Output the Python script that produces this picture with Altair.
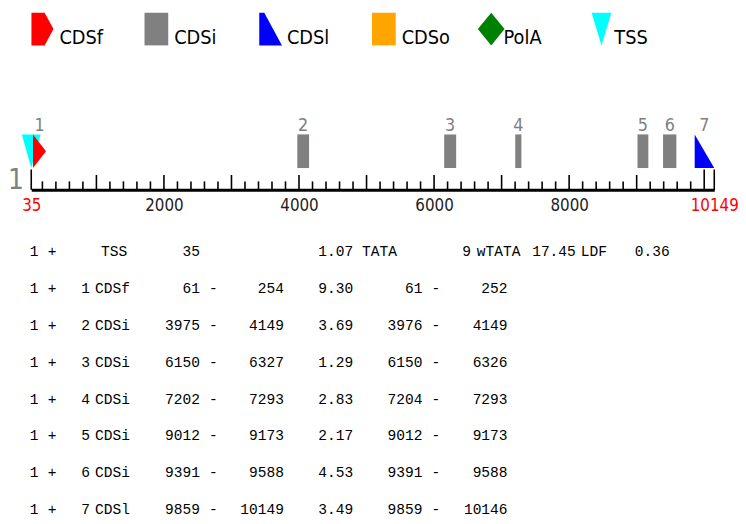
import altair as alt
import pandas as pd

# ---------------- data ----------------
feat_id = [1, 2, 3, 4, 5, 6, 7]
feat_type = ["CDSf", "CDSi", "CDSi", "CDSi", "CDSi", "CDSi", "CDSl"]
feat_start = [61, 3975, 6150, 7202, 9012, 9391, 9859]
feat_end = [254, 4149, 6327, 7293, 9173, 9588, 10149]
feat_score = ["9.30", "3.69", "1.29", "2.83", "2.17", "4.53", "3.49"]
orf_start = [61, 3976, 6150, 7204, 9012, 9391, 9859]
orf_end = [252, 4149, 6326, 7293, 9173, 9588, 10146]
tss_pos = 35
tss_fields = ["TSS", "35", "1.07", "TATA", "9", "wTATA", "17.45", "LDF", "0.36"]
seq_start, seq_end = 35, 10149
axis_labels = [35, 2000, 4000, 6000, 8000, 10149]
legend_names = ["CDSf", "CDSi", "CDSl", "CDSo", "PolA", "TSS"]
legend_colors = ["#ff0000", "#808080", "#0000ff", "#ffa500", "#008000", "#00ffff"]
gene_label = "1"
strand = "+"

# ---------------- layout ----------------
SANS = "Liberation Sans Narrow, DejaVu Sans Condensed, Arial Narrow, sans-serif"
MONO = "Liberation Mono, DejaVu Sans Mono, monospace"
PAD_L, PAD_T = 23.5, 0
W, H = 690.5, 181
TOTAL_W, TOTAL_H = 738, 510
PAD_R = TOTAL_W - PAD_L - W
PAD_B = TOTAL_H - PAD_T - H


def px(page_x):
    return page_x - 8 - PAD_L


def py(page_y):
    return page_y - 8 - PAD_T


XS = alt.Scale(domain=[seq_start, seq_end], nice=False, zero=False)
AX = alt.Axis(
    values=axis_labels, ticks=False, tickSize=0, grid=False, title=None,
    domainWidth=3, domainColor="#000000", format="d",
    labelFont=SANS, labelFontSize=17, labelPadding=8,
    labelFlush=False, labelOverlap=False,
    labelColor={"condition": {"test": "datum.value == 35 || datum.value == 10149",
                              "value": "#ff0000"}, "value": "#222222"},
)


def X(field):
    return alt.X(field, type="quantitative", scale=XS, axis=AX, title=None)


feat = pd.DataFrame({
    "id": feat_id, "type": feat_type, "start": feat_start, "end": feat_end,
    "score": feat_score, "ostart": orf_start, "oend": orf_end,
})
feat["mid"] = (feat["start"] + feat["end"]) / 2
feat["label"] = feat["id"].astype(str)
feat["row"] = range(1, len(feat) + 1)
feat["strandno"] = gene_label
feat["strand"] = strand
feat["dash"] = "-"

# tick table (scale ticks every 200, major every 1000, plus sequence ends)
tick_pos = sorted(set([seq_start, seq_end] + list(range(200, 10001, 200))))
ticks = pd.DataFrame({"pos": tick_pos})
ticks["kind"] = [
    "tall" if p in (seq_start, seq_end, 10000) else ("mid" if p % 1000 == 0 else "minor")
    for p in tick_pos
]

layers = []
BASE = 189
for kind, top in [("minor", 180.5), ("mid", 174), ("tall", 168.5)]:
    layers.append(
        alt.Chart(ticks).transform_filter(alt.datum.kind == kind)
        .mark_rule(color="#000000", strokeWidth=1.6)
        .encode(x=X("pos"), y=alt.value(py(top)), y2=alt.value(py(BASE)))
    )

# internal exons as rectangles
layers.append(
    alt.Chart(feat).transform_filter(alt.datum.type == "CDSi")
    .mark_rect(color="#808080")
    .encode(x=X("start"), x2="end", y=alt.value(py(133)), y2=alt.value(py(167)))
)

# TSS marker
layers.append(
    alt.Chart(pd.DataFrame({"pos": [tss_pos]}))
    .mark_point(shape="M-0.56,-1L0.56,-1L0,1Z", size=1156, filled=True,
                color="#00ffff", opacity=1, strokeWidth=0)
    .encode(x=X("pos"), y=alt.value(py(150)))
)

# first / last exon as triangles
tri = []
for i, t, s, e in zip(feat_id, feat_type, feat_start, feat_end):
    if t == "CDSf":
        tri += [dict(id=i, type=t, x=s, top=1.0, bot=0.0),
                dict(id=i, type=t, x=e, top=0.5, bot=0.5)]
    elif t == "CDSl":
        tri += [dict(id=i, type=t, x=s, top=1.0, bot=0.0),
                dict(id=i, type=t, x=e, top=0.0, bot=0.0)]
layers.append(
    alt.Chart(pd.DataFrame(tri)).mark_area(opacity=1)
    .encode(
        x=X("x"),
        y=alt.Y("top:Q", scale=alt.Scale(domain=[0, 1], range=[py(167), py(133)]), axis=None),
        y2="bot:Q",
        color=alt.Color("type:N", scale=alt.Scale(domain=["CDSf", "CDSl"],
                                                  range=["#ff0000", "#0000ff"]), legend=None),
        detail="id:N",
    )
)

# exon numbers
layers.append(
    alt.Chart(feat).mark_text(font=SANS, fontSize=18, color="#808080", baseline="alphabetic")
    .encode(x=X("mid"), y=alt.value(py(130)), text="label:N")
)

# gene number on the left
layers.append(
    alt.Chart(pd.DataFrame({"t": [gene_label]}))
    .mark_text(font=SANS, fontSize=28, color="#808080", baseline="alphabetic", align="left")
    .encode(x=alt.value(px(8)), y=alt.value(py(188)), text="t:N")
)

# legend
LEG_SHAPES = [
    ("M-0.676,-1L0.13,-1L0.676,0L0.13,1L-0.676,1Z", 42.85, 60),
    ("M-0.727,-1L0.727,-1L0.727,1L-0.727,1Z", 158, 176),
    ("M-0.697,-1L-0.39,-1L0.697,1L-0.697,1Z", 273.5, 290),
    ("M-0.727,-1L0.727,-1L0.727,1L-0.727,1Z", 388, 406),
    ("M0,-1L0.818,0L0,1L-0.818,0Z", 496.5, 509),
    ("M-0.606,-1L0.606,-1L0,1Z", 608, 621),
]
for name, colr, (path, cx, tx) in zip(legend_names, legend_colors, LEG_SHAPES):
    d = pd.DataFrame({"name": [name]})
    layers.append(
        alt.Chart(d).mark_point(shape=path, size=1089, filled=True, color=colr,
                                opacity=1, strokeWidth=0)
        .encode(x=alt.value(px(cx)), y=alt.value(py(26.5)))
    )
    layers.append(
        alt.Chart(d).mark_text(font=SANS, fontSize=20, color="#000000",
                               align="left", baseline="alphabetic")
        .encode(x=alt.value(px(tx)), y=alt.value(py(42)), text="name:N")
    )

# table
ROWS = alt.Scale(domain=[0, 7], range=[py(256), py(517)])


def col(df, field, page_x, align):
    return (
        alt.Chart(df).mark_text(font=MONO, fontSize=14.7, color="#000000",
                                align=align, baseline="alphabetic")
        .encode(x=alt.value(px(page_x)),
                y=alt.Y("row:Q", scale=ROWS, axis=None),
                text=alt.Text(field, type="nominal"))
    )


for field, xpos, al in [
    ("strandno", 34.5, "center"), ("strand", 52.5, "center"), ("label", 86.5, "center"),
    ("type", 96, "left"), ("start", 202, "right"), ("dash", 215.5, "center"),
    ("end", 287, "right"), ("score", 357, "right"), ("ostart", 427, "right"),
    ("dash", 440.5, "center"), ("oend", 513, "right"),
]:
    layers.append(col(feat, field, xpos, al))

tss_row = pd.DataFrame([dict(row=0, strandno=gene_label, strand=strand,
                             **{f"f{i}": v for i, v in enumerate(tss_fields)})])
for field, xpos, al in [
    ("strandno", 34.5, "center"), ("strand", 52.5, "center"),
    ("f0", 102, "left"), ("f1", 202, "right"), ("f2", 357, "right"),
    ("f3", 366, "left"), ("f4", 476, "right"), ("f5", 482, "left"),
    ("f6", 582, "right"), ("f7", 587, "left"), ("f8", 677, "right"),
]:
    layers.append(col(tss_row, field, xpos, al))

chart = (
    alt.layer(*layers)
    .properties(width=W, height=H,
                padding={"left": PAD_L, "top": PAD_T, "right": PAD_R, "bottom": PAD_B},
                autosize=alt.AutoSizeParams(type="none"))
    .resolve_scale(y="independent")
    .configure_view(stroke=None)
)

chart.save("out.html", embed_options={"renderer": "svg", "actions": False})
